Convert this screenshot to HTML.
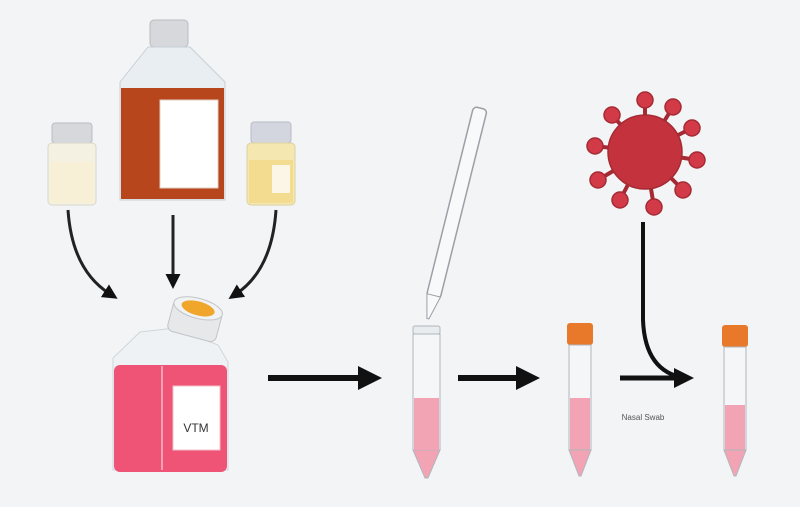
<!DOCTYPE html>
<html><head><style>html,body{margin:0;padding:0;background:#f3f4f6}svg{display:block}</style></head><body>
<svg width="800" height="507" viewBox="0 0 800 507" xmlns="http://www.w3.org/2000/svg">
<defs>
<marker id="ah" markerWidth="4" markerHeight="4" refX="2" refY="2" orient="auto" markerUnits="strokeWidth"><path d="M0,0 L4,2 L0,4 Z" fill="#111"/></marker>
<marker id="bh" markerWidth="5" markerHeight="5" refX="2" refY="2.5" orient="auto" markerUnits="strokeWidth"><path d="M0,0 L5,2.5 L0,5 Z" fill="#111"/></marker>
</defs>
<rect width="800" height="507" fill="#f3f4f6"/>
<!-- big bottle -->
<rect x="150" y="20" width="38" height="27" rx="4" fill="#d6d8dc" stroke="#b8bcc2"/>
<path d="M148,47 L190,47 L225,82 L225,200 L120,200 L120,82 Z" fill="#e8eef2" stroke="#c8d0d6"/>
<rect x="121" y="88" width="103" height="111" fill="#b8461c"/>
<rect x="160" y="100" width="58" height="88" fill="#fff" stroke="#e0d0c0"/>
<!-- small bottles -->
<rect x="52" y="123" width="40" height="20" rx="3" fill="#d6d8dc" stroke="#b8bcc2"/>
<rect x="48" y="143" width="48" height="62" rx="4" fill="#f5f1e2" stroke="#d8d6cc"/>
<rect x="50" y="162" width="44" height="41" fill="#f7efd6"/>
<rect x="251" y="122" width="40" height="21" rx="3" fill="#d3d6df" stroke="#b8bcc8"/>
<rect x="247" y="143" width="48" height="62" rx="4" fill="#f4e7b0" stroke="#dcd1a0"/>
<rect x="249" y="160" width="44" height="43" fill="#f3dc8f"/>
<rect x="272" y="165" width="18" height="28" fill="#fbf6e6"/>
<!-- arrows to flask -->
<path d="M68,210 Q72,270 110,294" fill="none" stroke="#222" stroke-width="3" marker-end="url(#bh)"/>
<path d="M173,215 L173,280" fill="none" stroke="#222" stroke-width="3" marker-end="url(#bh)"/>
<path d="M276,210 Q272,270 236,294" fill="none" stroke="#222" stroke-width="3" marker-end="url(#bh)"/>
<!-- flask -->
<path d="M113,358 L140,332 L175,328 L218,345 L228,362 L228,470 L113,470 Z" fill="#eef2f4" stroke="#cfd6da"/>
<rect x="114" y="365" width="113" height="107" rx="6" fill="#ef5477"/>
<line x1="162" y1="366" x2="162" y2="470" stroke="#f7a0b4" stroke-width="2"/>
<g transform="rotate(15 195 320)"><rect x="170" y="305" width="50" height="32" rx="6" fill="#e6e8ea" stroke="#c0c4c8"/><ellipse cx="195" cy="308" rx="25" ry="10" fill="#f0f2f4" stroke="#c0c4c8"/><ellipse cx="195" cy="308" rx="17" ry="7" fill="#f0a62a"/></g>
<rect x="173" y="386" width="47" height="64" fill="#fff" stroke="#f0c0c8"/>
<text x="196" y="432" font-family="Liberation Sans, sans-serif" font-size="12" text-anchor="middle" fill="#333">VTM</text>
<!-- arrow 1 -->
<line x1="268" y1="378" x2="370" y2="378" stroke="#111" stroke-width="6" marker-end="url(#ah)"/>
<!-- pipette -->
<g transform="rotate(14 455 210)"><rect x="448" y="105" width="14" height="195" rx="4" fill="#f8f9fa" stroke="#9aa0a6" stroke-width="1.5"/><path d="M448,298 L462,298 L456,322 L454,322 Z" fill="#f8f9fa" stroke="#9aa0a6"/></g>
<!-- tube 1 -->
<rect x="413" y="326" width="27" height="8" rx="2" fill="#e8ecef" stroke="#b0b6bc"/>
<rect x="413" y="334" width="27" height="116" fill="#f4f6f8" stroke="#b0b6bc"/>
<path d="M413,450 L440,450 L428,478 L425,478 Z" fill="#f2a4b4" stroke="#b0b6bc"/>
<rect x="414" y="398" width="25" height="52" fill="#f2a4b4"/>
<line x1="458" y1="378" x2="528" y2="378" stroke="#111" stroke-width="6" marker-end="url(#ah)"/>
<!-- tube 2 -->
<rect x="567" y="323" width="26" height="22" rx="3" fill="#e8782a"/>
<rect x="569" y="345" width="22" height="105" fill="#f4f6f8" stroke="#b0b6bc"/>
<rect x="570" y="398" width="20" height="52" fill="#f2a4b4"/>
<path d="M569,450 L591,450 L581,476 L579,476 Z" fill="#f2a4b4" stroke="#b0b6bc"/>
<!-- virus -->
<g fill="#c4333d" stroke="#a52a33" stroke-width="4" stroke-linecap="round">
<line x1="645" y1="152" x2="645" y2="100"/><line x1="645" y1="152" x2="673" y2="107"/><line x1="645" y1="152" x2="692" y2="128"/><line x1="645" y1="152" x2="697" y2="160"/><line x1="645" y1="152" x2="683" y2="190"/><line x1="645" y1="152" x2="654" y2="207"/><line x1="645" y1="152" x2="620" y2="200"/><line x1="645" y1="152" x2="598" y2="180"/><line x1="645" y1="152" x2="595" y2="146"/><line x1="645" y1="152" x2="612" y2="115"/>
</g>
<g fill="#d23a48" stroke="#a52a33" stroke-width="1.5">
<circle cx="645" cy="100" r="8"/><circle cx="673" cy="107" r="8"/><circle cx="692" cy="128" r="8"/><circle cx="697" cy="160" r="8"/><circle cx="683" cy="190" r="8"/><circle cx="654" cy="207" r="8"/><circle cx="620" cy="200" r="8"/><circle cx="598" cy="180" r="8"/><circle cx="595" cy="146" r="8"/><circle cx="612" cy="115" r="8"/>
<circle cx="645" cy="152" r="37" fill="#c4333d"/>
</g>
<!-- virus arrow -->
<path d="M643,222 L643,320 Q645,372 685,378" fill="none" stroke="#111" stroke-width="4"/>
<line x1="620" y1="378" x2="684" y2="378" stroke="#111" stroke-width="5" marker-end="url(#ah)"/>
<text x="643" y="420" font-family="Liberation Sans, sans-serif" font-size="8" text-anchor="middle" fill="#555">Nasal Swab</text>
<!-- tube 3 -->
<rect x="722" y="325" width="26" height="22" rx="3" fill="#e8782a"/>
<rect x="724" y="347" width="22" height="103" fill="#f4f6f8" stroke="#b0b6bc"/>
<rect x="725" y="405" width="20" height="45" fill="#f2a4b4"/>
<path d="M724,450 L746,450 L736,476 L734,476 Z" fill="#f2a4b4" stroke="#b0b6bc"/>
</svg>
</body></html>
